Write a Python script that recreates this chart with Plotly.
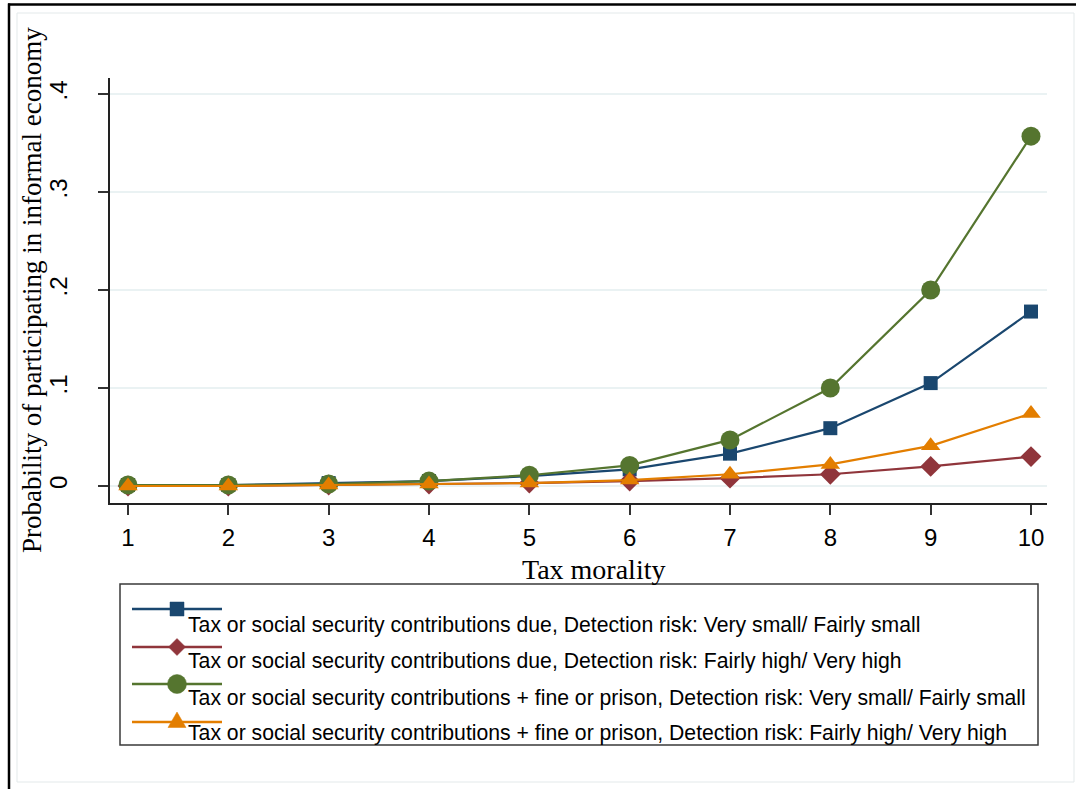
import plotly.graph_objects as go

# ---- data -------------------------------------------------------------
tax_morality = [1, 2, 3, 4, 5, 6, 7, 8, 9, 10]

due_low_risk = [0.001, 0.001, 0.003, 0.005, 0.010, 0.017, 0.033, 0.059, 0.105, 0.178]
due_high_risk = [0.000, 0.000, 0.001, 0.002, 0.003, 0.005, 0.008, 0.012, 0.020, 0.030]
fine_low_risk = [0.001, 0.001, 0.002, 0.005, 0.011, 0.021, 0.047, 0.100, 0.200, 0.357]
fine_high_risk = [0.000, 0.000, 0.001, 0.002, 0.003, 0.006, 0.012, 0.022, 0.041, 0.074]

series_names = [
    "Tax or social security contributions due, Detection risk: Very small/ Fairly small",
    "Tax or social security contributions due, Detection risk: Fairly high/ Very high",
    "Tax or social security contributions + fine or prison, Detection risk: Very small/ Fairly small",
    "Tax or social security contributions + fine or prison, Detection risk: Fairly high/ Very high",
]

y_tick_vals = [0, 0.1, 0.2, 0.3, 0.4]
y_tick_text = ["0", ".1", ".2", ".3", ".4"]
x_tick_vals = [1, 2, 3, 4, 5, 6, 7, 8, 9, 10]
x_tick_text = ["1", "2", "3", "4", "5", "6", "7", "8", "9", "10"]

# ---- styling ----------------------------------------------------------
W, H = 1076, 789
L, R, T, B = 110, 1047, 78, 503           # plot region in pixels

colors = ["#1a476f", "#90353b", "#55752f", "#e37e00"]
symbols = ["square", "diamond", "circle", "triangle-up"]
sizes = [14, 16, 19, 17]
grid_color = "#eaf2f3"
sans = "Liberation Sans, Arial, sans-serif"
serif = "Liberation Serif, Times New Roman, serif"


def px(x):
    return (x - L) / (R - L)


def py(y):
    return (B - y) / (B - T)


fig = go.Figure()

all_series = [due_low_risk, due_high_risk, fine_low_risk, fine_high_risk]
for vals, name, c, s, sz in zip(all_series, series_names, colors, symbols, sizes):
    fig.add_trace(go.Scatter(
        x=tax_morality, y=vals, name=name, mode="lines+markers",
        line=dict(color=c, width=2.2),
        marker=dict(symbol=s, size=sz, color=c, line=dict(width=0)),
        showlegend=False,
    ))

# legend block laid out below the plot (symbol row above its label)
key_rows = [609, 647, 684, 722]
label_rows = [625, 661, 698, 733]
key_x0, key_x1, key_mid, label_x = 132, 222, 177, 188

shapes = [
    # outer frame
    dict(type="line", xref="paper", yref="paper", x0=px(8), x1=px(1080), y0=py(4.5), y1=py(4.5),
         line=dict(color="black", width=2.5)),
    dict(type="line", xref="paper", yref="paper", x0=px(9), x1=px(9), y0=py(3.5), y1=py(795),
         line=dict(color="black", width=2.5)),
    # inner graph-region border
    dict(type="rect", xref="paper", yref="paper", x0=px(17), x1=px(1074), y0=py(13), y1=py(782),
         line=dict(color="#e3e9ea", width=1), layer="below"),
    # legend box
    dict(type="rect", xref="paper", yref="paper", x0=px(120), x1=px(1038), y0=py(584), y1=py(745),
         line=dict(color="#3a3a3a", width=1.5)),
]

# key glyph outlines in pixels around each key's centre
key_glyphs = [
    dict(type="rect", x0=-7, x1=7, y0=-7, y1=7),
    dict(type="path", path="M 0,8.5 L 8.5,0 L 0,-8.5 L -8.5,0 Z"),
    dict(type="circle", x0=-9.5, x1=9.5, y0=-9.5, y1=9.5),
    dict(type="path", path="M -9,-5.5 L 9,-5.5 L 0,10 Z"),
]
for c, yk, g in zip(colors, key_rows, key_glyphs):
    shapes.append(dict(type="line", xref="paper", yref="paper",
                       x0=px(key_x0), x1=px(key_x1), y0=py(yk), y1=py(yk),
                       line=dict(color=c, width=2.5)))
    glyph = dict(xref="paper", yref="paper", xsizemode="pixel", ysizemode="pixel",
                 xanchor=px(key_mid), yanchor=py(yk),
                 fillcolor=c, line=dict(color=c, width=0.5))
    glyph.update(g)
    shapes.append(glyph)

annotations = [
    dict(text="Tax morality", xref="paper", yref="paper", x=px(593), y=py(569),
         xanchor="center", yanchor="middle", showarrow=False,
         font=dict(family=serif, size=28, color="black")),
    dict(text="Probability of participating in informal economy", xref="paper", yref="paper",
         x=px(32), y=py(290), xanchor="center", yanchor="middle", showarrow=False,
         textangle=-90, font=dict(family=serif, size=27, color="black")),
]
for name, yl in zip(series_names, label_rows):
    annotations.append(dict(text=name, xref="paper", yref="paper", x=px(label_x - 2), y=py(yl),
                            xanchor="left", yanchor="middle", showarrow=False,
                            font=dict(family=sans, size=21.2, color="black")))

fig.update_layout(
    width=W, height=H,
    margin=dict(l=L, r=W - R, t=T, b=H - B, pad=0),
    paper_bgcolor="white", plot_bgcolor="white",
    showlegend=False,
    shapes=shapes, annotations=annotations,
    xaxis=dict(
        range=[1 - 18 / 100.33, 10 + 16 / 100.33],
        tickvals=x_tick_vals, ticktext=x_tick_text,
        showgrid=False, zeroline=False,
        showline=True, linecolor="#222222", linewidth=1.5,
        ticks="outside", ticklen=10, tickwidth=1.5, tickcolor="#333333",
        tickfont=dict(family=sans, size=24, color="black"),
        ticklabelstandoff=2,
    ),
    yaxis=dict(
        range=[-17 / 980, 408 / 980],
        tickvals=y_tick_vals, ticktext=y_tick_text,
        showgrid=True, gridcolor=grid_color, gridwidth=1.5,
        zeroline=False,
        showline=True, linecolor="#222222", linewidth=1.5,
        ticks="outside", ticklen=10, tickwidth=1.5, tickcolor="#333333",
        tickangle=-90,
        tickfont=dict(family=sans, size=24, color="black"),
        ticklabelstandoff=22,
    ),
)

fig.write_html("out.html")
